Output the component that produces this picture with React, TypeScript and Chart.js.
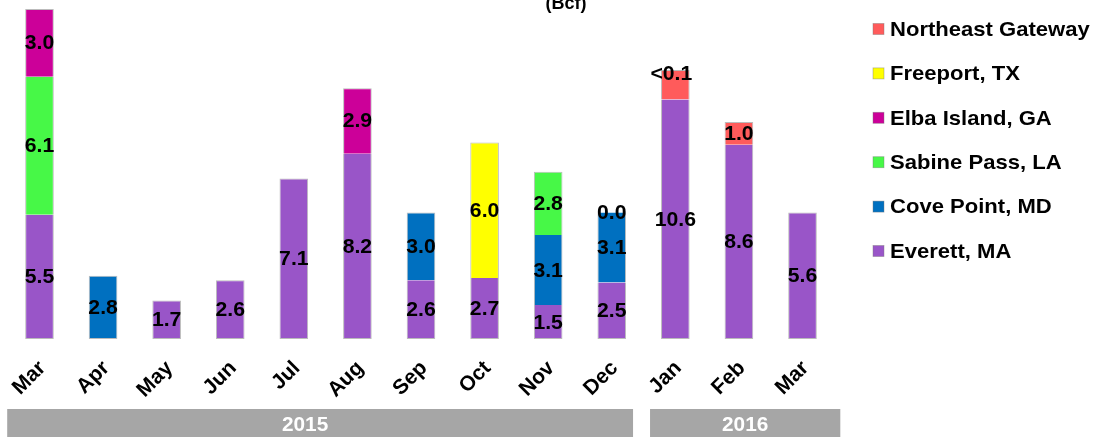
import React, { useEffect, useRef } from "react";
import { Chart, registerables } from "chart.js";

Chart.register(...registerables);

const FONT = "'Liberation Sans', Arial, sans-serif";

const months = ["Mar", "Apr", "May", "Jun", "Jul", "Aug", "Sep", "Oct", "Nov", "Dec", "Jan", "Feb", "Mar"];
const yearLabels = ["2015", "2016"];
const yearSpans = [10, 3];

const everett = [5.5, null, 1.7, 2.6, 7.1, 8.2, 2.6, 2.7, 1.5, 2.5, 10.6, 8.6, 5.6];
const covePoint = [null, 2.8, null, null, null, null, 3.0, null, 3.1, 3.1, null, null, null];
const sabinePass = [6.1, null, null, null, null, null, null, null, 2.8, 0.0, null, null, null];
const elbaIsland = [3.0, null, null, null, null, 2.9, null, null, null, null, null, null, null];
const freeport = [null, null, null, null, null, null, null, 6.0, null, null, null, null, null];
const northeastGateway = [null, null, null, null, null, null, null, null, null, null, 1.3, 1.0, null];
const northeastGatewayLabels = [null, null, null, null, null, null, null, null, null, null, "<0.1", null, null];

const seriesNames = ["Everett, MA", "Cove Point, MD", "Sabine Pass, LA", "Elba Island, GA", "Freeport, TX", "Northeast Gateway"];
const seriesColors = ["#9955C8", "#0070C0", "#47F847", "#CC0099", "#FFFF00", "#FF5B5B"];
const seriesValues = [everett, covePoint, sabinePass, elbaIsland, freeport, northeastGateway];
const seriesLabels: (string | null)[][] = [[], [], [], [], [], northeastGatewayLabels];

function drawStretched(ctx: any, text: string, x: number, y: number, sx: number, align: "left" | "center") {
  ctx.save();
  ctx.translate(x, y);
  ctx.scale(sx, 1);
  ctx.textAlign = align;
  ctx.fillText(text, 0, 0);
  ctx.restore();
}

const dataLabelPlugin = {
  id: "dataLabels",
  afterDatasetsDraw(chart: any) {
    const ctx = chart.ctx;
    ctx.save();
    ctx.font = `bold 20px ${FONT}`;
    ctx.fillStyle = "#000";
    ctx.textBaseline = "middle";
    chart.data.datasets.forEach((ds: any, di: number) => {
      const meta = chart.getDatasetMeta(di);
      meta.data.forEach((el: any, i: number) => {
        const v = ds.data[i];
        if (v === null || v === undefined) return;
        const { x, y, base } = el.getProps(["x", "y", "base"], true);
        const custom = seriesLabels[di][i];
        if (custom) {
          // "less than" labels sit near the top of their segment
          drawStretched(ctx, custom, x - 4, y + 4, 1.06, "center");
        } else {
          drawStretched(ctx, Number(v).toFixed(1), x, (y + base) / 2 + 1, 1.06, "center");
        }
      });
    });
    ctx.restore();
  },
};

const decorPlugin = {
  id: "decor",
  afterDraw(chart: any) {
    const ctx = chart.ctx;
    const xs = chart.scales.x;
    const catW = (xs.right - xs.left) / months.length;
    ctx.save();
    // title fragment
    ctx.font = `bold 18px ${FONT}`;
    ctx.fillStyle = "#000";
    ctx.textAlign = "center";
    ctx.textBaseline = "alphabetic";
    ctx.fillText("(Bcf)", 566, 9);

    // year bands
    const insets = [
      { l: -0.5, r: -10.5, t: -15 },
      { l: 6.5, r: 6, t: 0 },
    ];
    let start = 0;
    yearLabels.forEach((yl, k) => {
      const end = start + yearSpans[k] - 1;
      const x1 = xs.getPixelForValue(start) - catW / 2 + insets[k].l;
      const x2 = xs.getPixelForValue(end) + catW / 2 + insets[k].r;
      const top = 409;
      ctx.fillStyle = "#A6A6A6";
      ctx.fillRect(x1, top, x2 - x1, chart.height - top);
      ctx.fillStyle = "#FFFFFF";
      ctx.font = `bold 20px ${FONT}`;
      ctx.textBaseline = "middle";
      drawStretched(ctx, yl, (x1 + x2) / 2 + insets[k].t, 425, 1.04, "center");
      start = end + 1;
    });

    // legend (reversed order)
    const n = chart.data.datasets.length;
    for (let j = 0; j < n; j++) {
      const di = n - 1 - j;
      const ds = chart.data.datasets[di];
      const cy = 29 + j * 44.4;
      ctx.fillStyle = ds.backgroundColor;
      ctx.fillRect(873, cy - 5.5, 11, 11);
      ctx.strokeStyle = "rgba(120,120,120,0.5)";
      ctx.lineWidth = 0.8;
      ctx.strokeRect(873, cy - 5.5, 11, 11);
      ctx.fillStyle = "#000";
      ctx.font = `bold 21px ${FONT}`;
      ctx.textBaseline = "middle";
      drawStretched(ctx, ds.label, 890, cy + 1, 1.05, "left");
    }
    ctx.restore();
  },
};

function borderFor(ctx: any) {
  const di = ctx.datasetIndex;
  const i = ctx.dataIndex;
  let lowest = -1;
  let highest = -1;
  for (let k = 0; k < seriesValues.length; k++) {
    const v = seriesValues[k][i];
    if (v !== null && v !== undefined) {
      if (lowest < 0) lowest = k;
      highest = k;
    }
  }
  return { left: 1, right: 1, top: di === highest ? 1 : 0, bottom: di === lowest ? 1 : 0 };
}

export default function App() {
  const ref = useRef<HTMLCanvasElement | null>(null);
  useEffect(() => {
    if (!ref.current) return;
    const chart = new Chart(ref.current, {
      type: "bar",
      data: {
        labels: months,
        datasets: seriesNames.map((name, k) => ({
          label: name,
          data: seriesValues[k] as any,
          backgroundColor: seriesColors[k],
          borderColor: "rgba(170,170,170,0.8)",
          borderWidth: borderFor as any,
          borderSkipped: false,
          barPercentage: 0.45,
          categoryPercentage: 1,
        })),
      },
      options: {
        animation: false,
        responsive: true,
        maintainAspectRatio: false,
        layout: { padding: { left: 7.7, right: 259.7, top: 0, bottom: 0 } },
        plugins: {
          legend: { display: false },
          tooltip: { enabled: false },
          title: { display: false },
        },
        scales: {
          x: {
            stacked: true,
            grid: { display: false },
            border: { display: false },
            ticks: {
              autoSkip: false,
              maxRotation: 45,
              minRotation: 45,
              color: "#000",
              padding: 9,
              labelOffset: 3,
              font: { family: FONT, size: 21, weight: "bold" },
            },
            afterFit: (s: any) => {
              s.height = 98;
            },
          },
          y: { stacked: true, display: false, min: 0, max: 15 },
        },
      },
      plugins: [dataLabelPlugin, decorPlugin],
    });
    return () => chart.destroy();
  }, []);
  return (
    <div style={{ position: "absolute", left: 0, top: 0, width: 1094, height: 437, background: "#fff" }}>
      <canvas ref={ref} />
    </div>
  );
}
